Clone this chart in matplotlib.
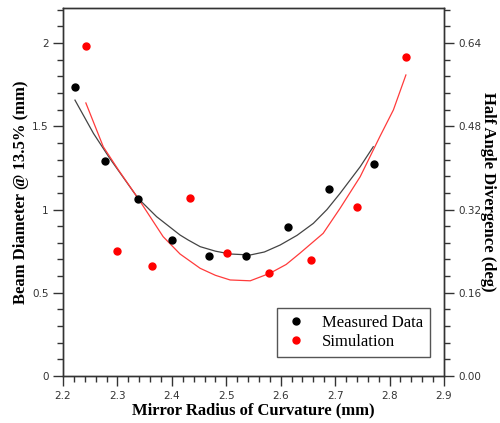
import matplotlib.pyplot as plt
from matplotlib.ticker import MultipleLocator, FormatStrFormatter

# Measured data
meas_x = [2.222, 2.278, 2.338, 2.401, 2.468, 2.536, 2.613, 2.689, 2.771]
meas_y = [1.734, 1.291, 1.061, 0.819, 0.721, 0.721, 0.895, 1.123, 1.273]

# Simulation data
sim_x = [2.243, 2.300, 2.364, 2.433, 2.501, 2.578, 2.656, 2.741, 2.831]
sim_y = [1.982, 0.749, 0.662, 1.071, 0.739, 0.617, 0.697, 1.015, 1.918]

# Fit curves
meas_fit_x = [2.222, 2.256, 2.286, 2.338, 2.372, 2.415, 2.430, 2.452, 2.480,
              2.507, 2.544, 2.570, 2.599, 2.630, 2.660, 2.685, 2.709, 2.746,
              2.770]
meas_fit_y = [1.657, 1.457, 1.307, 1.067, 0.957, 0.847, 0.817, 0.777, 0.750,
              0.733, 0.727, 0.745, 0.787, 0.845, 0.917, 1.000, 1.097, 1.257,
              1.377]
sim_fit_x = [2.242, 2.274, 2.302, 2.338, 2.384, 2.415, 2.452, 2.480, 2.507,
             2.544, 2.580, 2.610, 2.635, 2.678, 2.709, 2.746, 2.782, 2.807,
             2.830]
sim_fit_y = [1.640, 1.377, 1.237, 1.067, 0.837, 0.733, 0.647, 0.605, 0.577,
             0.572, 0.617, 0.670, 0.737, 0.857, 1.007, 1.197, 1.437, 1.598,
             1.808]

serif = 'Liberation Serif'
tick_color = '#333333'

fig = plt.figure(figsize=(5, 4.23), dpi=100)
ax = fig.add_axes([0.126, 0.111, 0.762, 0.870])

ax.plot(meas_fit_x, meas_fit_y, color='#444444', lw=0.9)
ax.plot(sim_fit_x, sim_fit_y, color='#ff3b3b', lw=0.9)
ax.plot(meas_x, meas_y, 'o', color='black', ms=5, label='Measured Data')
ax.plot(sim_x, sim_y, 'o', color='#ff0000', ms=5, label='Simulation')

ax.set_xlim(2.2, 2.9)
ax.set_ylim(0, 2.21)
ax.xaxis.set_major_locator(MultipleLocator(0.1))
ax.xaxis.set_minor_locator(MultipleLocator(0.02))
ax.yaxis.set_major_locator(MultipleLocator(0.5))
ax.yaxis.set_minor_locator(MultipleLocator(0.1))
ax.yaxis.set_major_formatter(plt.FuncFormatter(lambda v, p: f'{v:g}'))

ax2 = ax.twinx()
ax2.set_ylim(0, 2.21 * 0.32)
ax2.yaxis.set_major_locator(MultipleLocator(0.16))
ax2.yaxis.set_minor_locator(MultipleLocator(0.032))
ax2.yaxis.set_major_formatter(FormatStrFormatter('%.2f'))

for a in (ax, ax2):
    a.tick_params(which='major', length=7, width=1, color=tick_color,
                  labelsize=7.5, labelcolor=tick_color, direction='out')
    a.tick_params(which='minor', length=4.5, width=1, color=tick_color,
                  direction='out')
    for s in a.spines.values():
        s.set_color(tick_color)
        s.set_linewidth(1)

ax.set_xlabel('Mirror Radius of Curvature (mm)', fontfamily=serif,
              fontweight='bold', fontsize=12, labelpad=1)
ax.set_ylabel('Beam Diameter @ 13.5% (mm)', fontfamily=serif,
              fontweight='bold', fontsize=12, labelpad=2)
ax2.set_ylabel('Half Angle Divergence (deg)', fontfamily=serif,
               fontweight='bold', fontsize=12, rotation=-90, labelpad=10)

leg = ax.legend(loc='lower right', bbox_to_anchor=(0.985, 0.03),
                prop={'family': serif, 'size': 12}, fancybox=False,
                framealpha=1, edgecolor='#555555', handletextpad=0.8,
                borderpad=0.4, labelspacing=0.2, handlelength=1.5)
leg.get_frame().set_linewidth(1)

fig.savefig('out.png', dpi=100)
